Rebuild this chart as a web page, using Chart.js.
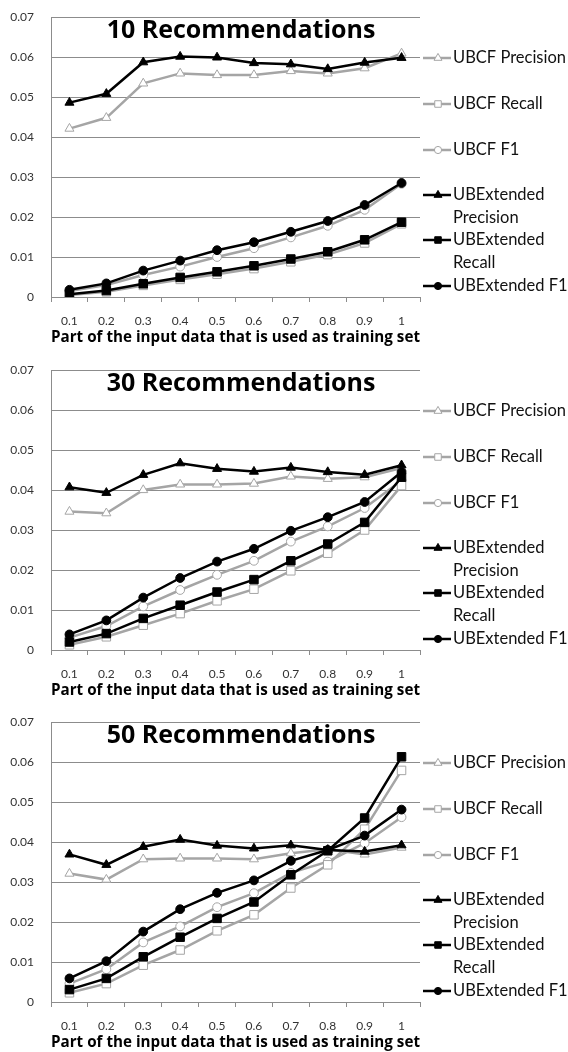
<!DOCTYPE html>
<html>
<head>
<meta charset="utf-8">
<script src="https://cdn.jsdelivr.net/npm/chart.js@4/dist/chart.umd.min.js"></script>
<style>
  body { margin: 0; background: #fff; width: 568px; height: 1052px; overflow: hidden; position: relative; }
  canvas { position: absolute; left: 0; }
</style>
</head>
<body>
<canvas id="chart10" width="568" height="350" style="top:0"></canvas>
<canvas id="chart30" width="568" height="350" style="top:353px"></canvas>
<canvas id="chart50" width="568" height="350" style="top:705px"></canvas>
<script>
// x categories and tick labels
const trainingParts = ['0.1', '0.2', '0.3', '0.4', '0.5', '0.6', '0.7', '0.8', '0.9', '1'];
const yTickLabels = ['0', '0.01', '0.02', '0.03', '0.04', '0.05', '0.06', '0.07'];
const xTitle = 'Part of the input data that is used as training set';
const seriesNames = ['UBCF Precision', 'UBCF Recall', 'UBCF F1', ['UBExtended', 'Precision'], ['UBExtended', 'Recall'], 'UBExtended F1'];

// 10 recommendations
const ubcfPrecision10 = [0.0421, 0.0448, 0.0534, 0.0559, 0.0555, 0.0555, 0.0565, 0.0559, 0.0572, 0.0609];
const ubcfRecall10    = [0.0005, 0.0013, 0.0029, 0.0044, 0.0057, 0.0071, 0.0088, 0.0106, 0.0135, 0.0183];
const ubcfF110        = [0.0015, 0.0030, 0.0055, 0.0076, 0.0100, 0.0122, 0.0149, 0.0178, 0.0218, 0.0283];
const extPrecision10  = [0.0486, 0.0508, 0.0587, 0.0601, 0.0599, 0.0585, 0.0582, 0.0570, 0.0586, 0.0598];
const extRecall10     = [0.0007, 0.0016, 0.0033, 0.0049, 0.0063, 0.0078, 0.0095, 0.0113, 0.0143, 0.0187];
const extF110         = [0.0018, 0.0034, 0.0066, 0.0091, 0.0117, 0.0137, 0.0163, 0.0190, 0.0230, 0.0285];

// 30 recommendations
const ubcfPrecision30 = [0.0346, 0.0342, 0.0400, 0.0414, 0.0414, 0.0416, 0.0434, 0.0428, 0.0432, 0.0455];
const ubcfRecall30    = [0.0013, 0.0033, 0.0062, 0.0091, 0.0123, 0.0152, 0.0198, 0.0242, 0.0300, 0.0411];
const ubcfF130        = [0.0031, 0.0060, 0.0109, 0.0150, 0.0188, 0.0223, 0.0271, 0.0309, 0.0355, 0.0424];
const extPrecision30  = [0.0407, 0.0393, 0.0438, 0.0467, 0.0453, 0.0446, 0.0456, 0.0445, 0.0438, 0.0462];
const extRecall30     = [0.0020, 0.0041, 0.0079, 0.0112, 0.0145, 0.0176, 0.0223, 0.0265, 0.0319, 0.0432];
const extF130         = [0.0039, 0.0074, 0.0131, 0.0180, 0.0221, 0.0253, 0.0298, 0.0332, 0.0370, 0.0445];

// 50 recommendations
const ubcfPrecision50 = [0.0321, 0.0306, 0.0357, 0.0359, 0.0359, 0.0357, 0.0372, 0.0382, 0.0369, 0.0386];
const ubcfRecall50    = [0.0023, 0.0046, 0.0092, 0.0130, 0.0178, 0.0218, 0.0285, 0.0343, 0.0432, 0.0579];
const ubcfF150        = [0.0046, 0.0082, 0.0149, 0.0189, 0.0237, 0.0272, 0.0323, 0.0351, 0.0397, 0.0462];
const extPrecision50  = [0.0369, 0.0343, 0.0388, 0.0406, 0.0391, 0.0384, 0.0392, 0.0380, 0.0376, 0.0392];
const extRecall50     = [0.0031, 0.0059, 0.0113, 0.0162, 0.0209, 0.0250, 0.0318, 0.0378, 0.0460, 0.0613];
const extF150         = [0.0059, 0.0102, 0.0176, 0.0232, 0.0273, 0.0304, 0.0353, 0.0380, 0.0416, 0.0481];

const GREY = '#a5a5a5';
const GRID = '#8c8c8c';
const shapes = ['triangle', 'rect', 'circle', 'triangle', 'rect', 'circle'];
const radii = { triangle: 5.2, rect: 6, circle: 4.4 };
const legendOffsets = [41, 87, 133, 178, 223, 269];

function markerPath(ctx, shape, x, y, r) {
  ctx.beginPath();
  if (shape === 'triangle') {
    ctx.moveTo(x, y - r);
    ctx.lineTo(x + r * 0.866, y + r * 0.5);
    ctx.lineTo(x - r * 0.866, y + r * 0.5);
    ctx.closePath();
  } else if (shape === 'rect') {
    ctx.rect(x - r * 0.707, y - r * 0.707, r * 1.414, r * 1.414);
  } else {
    ctx.arc(x, y, r, 0, Math.PI * 2);
  }
}

// title over the plot and the legend to its right
const overlay = {
  id: 'overlay',
  afterDraw(chart, args, opts) {
    const { ctx, chartArea } = chart;
    ctx.save();
    ctx.fillStyle = '#000';
    ctx.font = 'bold 25px "Open Sans"';
    ctx.textAlign = 'center';
    ctx.textBaseline = 'alphabetic';
    ctx.fillText(opts.title, 241, chartArea.top + 21);

    ctx.font = '16.5px Lato';
    ctx.textAlign = 'left';
    ctx.textBaseline = 'middle';
    chart.data.datasets.forEach((ds, i) => {
      const y = chartArea.top + legendOffsets[i];
      ctx.strokeStyle = ds.borderColor;
      ctx.lineWidth = 2.5;
      ctx.beginPath();
      ctx.moveTo(423, y);
      ctx.lineTo(451, y);
      ctx.stroke();
      markerPath(ctx, shapes[i], 438, y, shapes[i] === 'circle' ? 3.6 : 4.6);
      ctx.fillStyle = ds.pointBackgroundColor;
      ctx.fill();
      ctx.lineWidth = 1;
      ctx.strokeStyle = ds.pointBorderColor;
      ctx.stroke();
      ctx.fillStyle = '#111';
      const lines = Array.isArray(ds.label) ? ds.label : [ds.label];
      lines.forEach((t, k) => ctx.fillText(t, 453, y + k * 22.5));
    });
    ctx.restore();
  }
};

function makeSet(i, values) {
  const grey = i < 3;
  return {
    label: seriesNames[i],
    data: values,
    borderColor: grey ? GREY : '#000',
    borderWidth: 2.5,
    pointStyle: shapes[i],
    pointRadius: radii[shapes[i]],
    pointBackgroundColor: grey ? '#fff' : '#000',
    pointBorderColor: grey ? GREY : '#000',
    pointBorderWidth: 1,
    tension: 0,
    order: grey ? 1 : 0
  };
}

function drawChart(id, title, series) {
  new Chart(document.getElementById(id), {
    type: 'line',
    data: {
      labels: trainingParts,
      datasets: series.map((v, i) => makeSet(i, v))
    },
    options: {
      responsive: false,
      animation: false,
      layout: { padding: { left: 0, right: 148, top: 17, bottom: 2 } },
      plugins: {
        legend: { display: false },
        tooltip: { enabled: false },
        overlay: { title: title }
      },
      scales: {
        x: {
          offset: true,
          afterFit(scale) { scale.height = 51; },
          grid: { display: true, drawOnChartArea: false, drawTicks: true, tickLength: 5, offset: true, color: GRID },
          border: { color: GRID },
          ticks: { padding: 12, color: '#333', font: { family: 'Lato', size: 12 }, maxRotation: 0, autoSkip: false },
          title: { display: true, text: xTitle, color: '#000', font: { family: 'Open Sans', size: 15.5, weight: 'bold' }, padding: { top: 0, bottom: 1 } }
        },
        y: {
          min: 0,
          max: 0.07,
          afterFit(scale) {
            scale.width = 51;
            scale.paddingTop = 0;
            scale.paddingBottom = 0;
          },
          grid: { color: GRID, drawTicks: false, tickLength: 0 },
          border: { color: GRID },
          ticks: { stepSize: 0.01, padding: 17, color: '#333', font: { family: 'Lato', size: 12 }, callback: (v, i) => yTickLabels[i] }
        }
      }
    },
    plugins: [overlay]
  });
}

drawChart('chart10', '10 Recommendations', [ubcfPrecision10, ubcfRecall10, ubcfF110, extPrecision10, extRecall10, extF110]);
drawChart('chart30', '30 Recommendations', [ubcfPrecision30, ubcfRecall30, ubcfF130, extPrecision30, extRecall30, extF130]);
drawChart('chart50', '50 Recommendations', [ubcfPrecision50, ubcfRecall50, ubcfF150, extPrecision50, extRecall50, extF150]);
</script>
</body>
</html>
